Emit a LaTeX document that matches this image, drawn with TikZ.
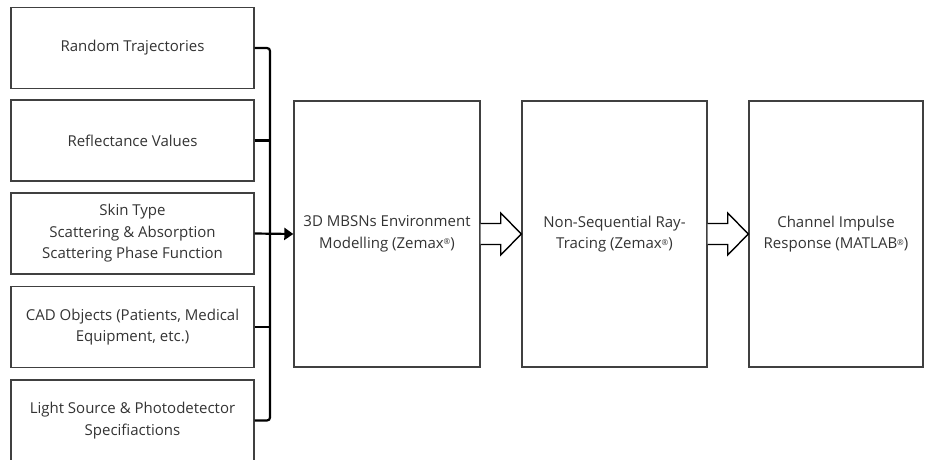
\documentclass[tikz,border=0pt]{standalone}
\usepackage{fontspec}
\setmainfont{Open Sans}
\usetikzlibrary{arrows.meta,positioning,calc}
\definecolor{boxline}{HTML}{404040}
\definecolor{txt}{HTML}{333333}
\newcommand{\regmark}{\raisebox{3.5pt}{\fontsize{8}{8}\selectfont®}}

\begin{document}
\begin{tikzpicture}[x=1pt,y=-1pt,>=Latex,
  every node/.style={font=\fontsize{15}{21.5}\selectfont, text=txt, align=center},
  inbox/.style={draw=boxline, line width=1.4pt, minimum width=243pt, minimum height=81pt, inner sep=0pt},
  stagebox/.style={draw=boxline, line width=1.4pt, minimum height=266pt, inner sep=0pt},
  bus/.style={line width=2.2pt, black, rounded corners=3pt},
  hollow/.style={draw=black, line width=1.4pt, fill=white, line join=miter}]
\useasboundingbox (0,0) rectangle (925,459);

% 1. input boxes
\node[inbox] (rt)  at (132.5,48)    {Random Trajectories};
\node[inbox] (rv)  at (132.5,140.5) {Reflectance Values};
\node[inbox] (sk)  at (132.5,233.5) {Skin Type\\Scattering \& Absorption\\Scattering Phase Function};
\node[inbox] (cad) at (132.5,327)   {CAD Objects (Patients, Medical\\Equipment, etc.)};
\node[inbox] (lsp) at (132.5,420.5) {Light Source \& Photodetector\\Specifiactions};

% 2. stages
\node[stagebox, minimum width=186pt] (env) at (387,234)   {3D MBSNs Environment\\Modelling (Zemax\regmark)};
\node[stagebox, minimum width=185pt] (ray) at (614.5,234) {Non-Sequential Ray-\\Tracing (Zemax\regmark)};
\node[stagebox, minimum width=174pt] (cir) at (836,234)   {Channel Impulse\\Response (MATLAB\regmark)};

% 3. bus
\coordinate (jn) at (270,233.5);
\draw[bus] (rt.east) -| (jn);
\draw[bus] (lsp.east) -| (jn);
\draw[bus] (rv.east) -- (rv.east -| jn);
\draw[bus] (cad.east) -- (cad.east -| jn);
\draw[bus, -{Triangle[length=9pt,width=12pt]}] (sk.east) -- (env.west);

% 4. hollow arrows
\draw[hollow] ($(env.east)+(0,-10.5)$) -- ($(env.east)+(20,-10.5)$) -- ($(env.east)+(20,-21)$)
  -- (ray.west) -- ($(env.east)+(20,21)$) -- ($(env.east)+(20,10.5)$) -- ($(env.east)+(0,10.5)$);
\draw[hollow] ($(ray.east)+(0,-10.5)$) -- ($(ray.east)+(20,-10.5)$) -- ($(ray.east)+(20,-21)$)
  -- (cir.west) -- ($(ray.east)+(20,21)$) -- ($(ray.east)+(20,10.5)$) -- ($(ray.east)+(0,10.5)$);
\end{tikzpicture}
\end{document}
